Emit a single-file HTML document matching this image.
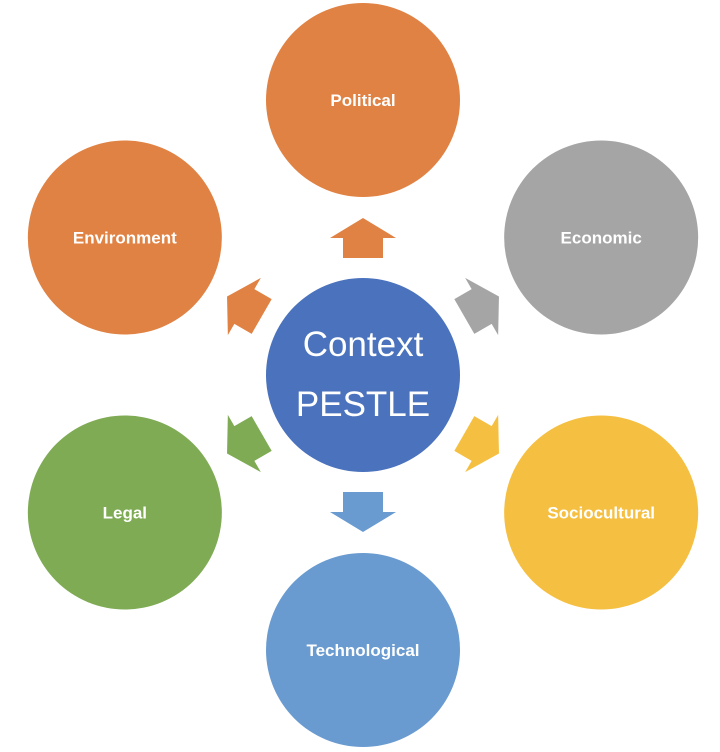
<!DOCTYPE html>
<html><head><meta charset="utf-8"><style>
html,body{margin:0;padding:0;background:#fff;width:720px;height:752px;overflow:hidden}
svg{display:block}
.lbl{font-family:"Liberation Sans",sans-serif;font-weight:bold;font-size:17px;fill:#fff}
.ctr{font-family:"Liberation Sans",sans-serif;font-size:35px;fill:#fff}
</style></head><body>
<svg width="720" height="752" viewBox="0 0 720 752">
<g id="g"></g>
<circle cx="363" cy="375" r="97" fill="#4a72bd"/>
<text class="ctr" x="363" y="356" text-anchor="middle">Context</text>
<text class="ctr" x="363" y="416" text-anchor="middle">PESTLE</text>
</svg>
<script>
const labels=["Political","Economic","Sociocultural","Technological","Legal","Environment"];
const colors=["#e08243","#a5a5a5","#f5bf41","#6a9bd0","#7eab53","#e08243"];
const angles=[0,60,120,180,240,300];
const g=document.getElementById('g');
const NS="http://www.w3.org/2000/svg";
const cx=363,cy=375,R=275;
labels.forEach((t,i)=>{
  const a=angles[i]*Math.PI/180;
  const x=cx+R*Math.sin(a),y=cy-R*Math.cos(a);
  const c=document.createElementNS(NS,'circle');
  c.setAttribute('cx',x);c.setAttribute('cy',y);c.setAttribute('r',97);c.setAttribute('fill',colors[i]);
  
  
  g.appendChild(c);
  const tx=document.createElementNS(NS,'text');
  tx.setAttribute('x',x);tx.setAttribute('y',y+6);tx.setAttribute('text-anchor','middle');tx.setAttribute('class','lbl');
  tx.textContent=t;
  
  
  g.appendChild(tx);
  const p=document.createElementNS(NS,'polygon');
  p.setAttribute('points',"343,258 383,258 383,238 396,238 363,218 330,238 343,238");
  p.setAttribute('fill',colors[i]);
  p.setAttribute('transform','rotate('+angles[i]+' '+cx+' '+cy+')');
  
  
  g.appendChild(p);
});
</script>
</body></html>
